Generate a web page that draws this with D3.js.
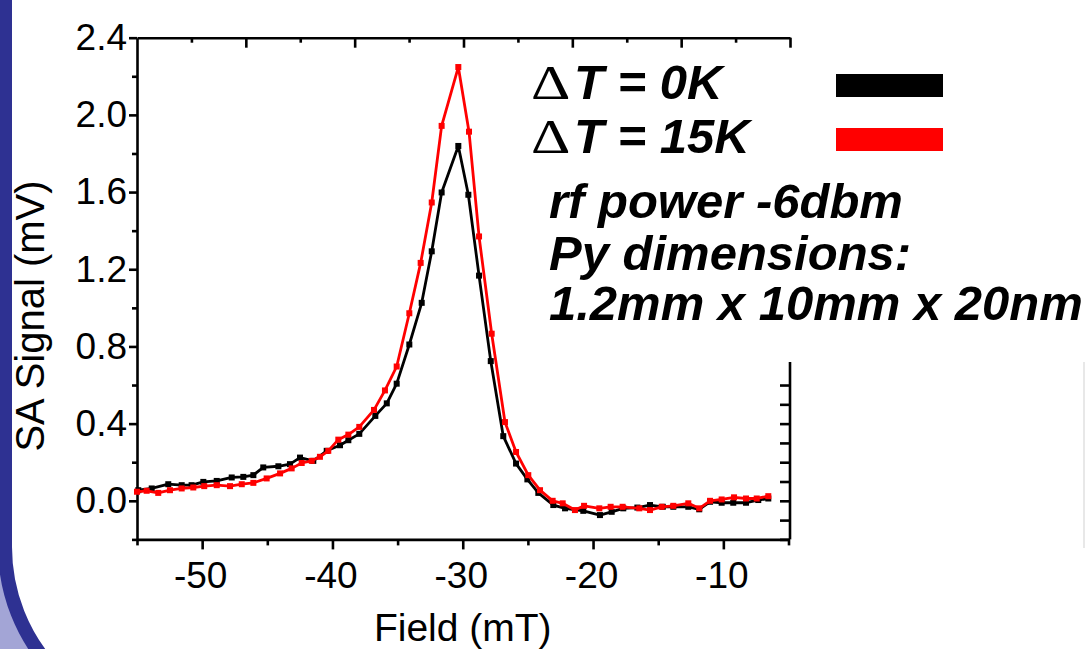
<!DOCTYPE html>
<html><head><meta charset="utf-8">
<script src="https://cdn.jsdelivr.net/npm/d3@7"></script>
<style>html,body{margin:0;padding:0;background:#fff;overflow:hidden}</style>
</head><body><svg id="c" width="1088" height="649"></svg>
<script>
// ---- data ----
const fieldK0 = [-54.9,-53.87,-52.6,-51.57,-50.81,-49.91,-48.88,-47.73,-46.84,-46.07,-45.31,-44.15,-43.26,-42.49,-41.47,-40.44,-39.42,-38.78,-37.94,-36.71,-35.83,-35.07,-34.10,-33.15,-32.38,-31.62,-30.34,-29.57,-28.75,-27.85,-26.89,-25.91,-25.04,-24.20,-23.05,-22.15,-20.75,-19.47,-18.57,-17.68,-16.6,-15.63,-14.65,-13.84,-12.69,-11.85,-11.02,-10.13,-9.24,-8.26,-7.32,-6.55];
const signalK0 = [0.055,0.064,0.086,0.081,0.081,0.098,0.103,0.121,0.124,0.133,0.173,0.179,0.190,0.224,0.207,0.259,0.288,0.314,0.347,0.440,0.505,0.607,0.810,1.026,1.293,1.598,1.839,1.586,1.167,0.724,0.335,0.193,0.111,0.041,-0.022,-0.039,-0.052,-0.074,-0.057,-0.039,-0.035,-0.022,-0.031,-0.031,-0.031,-0.044,-0.005,-0.010,-0.010,-0.010,0.004,0.012];
const fieldK15 = [-55.0,-54.26,-53.37,-52.47,-51.57,-50.68,-49.84,-48.88,-47.86,-46.96,-46.07,-45.05,-44.02,-43.13,-42.36,-41.59,-40.96,-40.32,-39.55,-38.78,-37.94,-36.81,-35.97,-35.07,-34.10,-33.23,-32.38,-31.62,-30.34,-29.52,-28.75,-27.78,-26.76,-25.91,-24.97,-24.07,-23.10,-22.33,-21.39,-20.69,-19.52,-18.65,-17.73,-16.45,-15.63,-14.73,-13.84,-12.69,-11.85,-11.02,-10.13,-9.18,-8.26,-7.44,-6.55];
const signalK15 = [0.047,0.052,0.041,0.055,0.064,0.069,0.076,0.081,0.076,0.086,0.093,0.116,0.142,0.168,0.196,0.207,0.228,0.259,0.317,0.343,0.383,0.471,0.572,0.696,0.972,1.233,1.546,1.943,2.248,1.913,1.370,0.866,0.408,0.253,0.133,0.055,0.000,-0.013,-0.048,-0.026,-0.039,-0.031,-0.031,-0.039,-0.048,-0.031,-0.026,-0.013,-0.039,0.000,0.007,0.018,0.012,0.012,0.024];
const xTickLabels = [-50,-40,-30,-20,-10];
const xMinorTicks = [-55,-45,-35,-25,-15,-5];
const yTickLabels = [0.0,0.4,0.8,1.2,1.6,2.0,2.4];
const yMinorTicks = [-0.2,0.2,0.6,1.0,1.4,1.8,2.2];
const rightTicks = [-0.2,-0.1,0.0,0.1,0.2,0.3,0.4,0.5,0.6];
const topTicks = [1,2,3,4,5,6,7,8,9,10,11,12];
const seriesNames = ["T = 0K","T = 15K"];
const seriesColors = ["#000000","#ff0000"];
const noteLines = ["rf power -6dbm","Py dimensions:","1.2mm x 10mm x 20nm"];

const svg = d3.select("#c");
const W = 1088, H = 649;

// slide frame
svg.append("rect").attr("x",0).attr("y",0).attr("width",W).attr("height",H).attr("fill","#a3a5d6");
svg.append("rect").attr("x",5).attr("y",-300).attr("width",1400).attr("height",1027)
  .attr("rx",180).attr("ry",180).attr("fill","#ffffff").attr("stroke","#2e3192").attr("stroke-width",14);
svg.append("line").attr("x1",1084).attr("x2",1084).attr("y1",205).attr("y2",548)
  .attr("stroke","#e0e0e0").attr("stroke-width",1.5);

const x = d3.scaleLinear().domain([-55,-5]).range([137,788.5]);
const y = d3.scaleLinear().domain([-0.2,2.4]).range([539.4,37.7]);
const xTop = d3.scaleLinear().domain([0,12]).range([137,790]);

const font = "'Liberation Sans', Arial, sans-serif";

function styleAxis(g){
  g.select(".domain").attr("stroke","#000").attr("stroke-width",2.6);
  g.selectAll(".tick line").attr("stroke","#000").attr("stroke-width",2.6);
  g.selectAll(".tick text").attr("fill","#000").style("font-family",font).style("font-size","37px");
}

// bottom axis
const gx = svg.append("g").attr("transform",`translate(0,${y(-0.2)})`)
  .call(d3.axisBottom(x).tickValues(xTickLabels).tickSize(10).tickPadding(12.5).tickFormat(d3.format("d")).tickSizeOuter(0));
styleAxis(gx);
gx.selectAll(".tick text").text(d=>String(d)).attr("dx",-2);
const gxm = svg.append("g").attr("transform",`translate(0,${y(-0.2)})`)
  .call(d3.axisBottom(x).tickValues(xMinorTicks).tickSize(6).tickFormat("").tickSizeOuter(0));
styleAxis(gxm); gxm.select(".domain").remove();

// left axis
const gy = svg.append("g").attr("transform",`translate(${x(-55)},0)`)
  .call(d3.axisLeft(y).tickValues(yTickLabels).tickSize(8).tickPadding(2).tickFormat(d3.format(".1f")).tickSizeOuter(0));
styleAxis(gy);
const gym = svg.append("g").attr("transform",`translate(${x(-55)},0)`)
  .call(d3.axisLeft(y).tickValues(yMinorTicks).tickSize(5).tickFormat("").tickSizeOuter(0));
styleAxis(gym); gym.select(".domain").remove();

// top frame with its inner ticks
const gt = svg.append("g").attr("transform",`translate(0,${y(2.4)})`)
  .call(d3.axisBottom(xTop).tickValues(topTicks).tickFormat("").tickSizeOuter(0).tickSize(0));
styleAxis(gt);
gt.selectAll(".tick line").attr("y2",d=> d%2===0 ? 10 : 5);

// right axis (inner ticks)
const gr = svg.append("g").attr("transform",`translate(${xTop(12)},0)`)
  .call(d3.axisLeft(y).tickValues(rightTicks).tickFormat("").tickSizeOuter(0).tickSize(10));
styleAxis(gr);
gr.select(".domain").attr("d",`M0,${y(-0.2)}V${y(0.72)}`);

// series
const line = d3.line().x(d=>x(d[0])).y(d=>y(d[1]));
const series = [d3.zip(fieldK0,signalK0), d3.zip(fieldK15,signalK15)];
series.forEach((s,i)=>{
  svg.append("path").datum(s).attr("d",line).attr("fill","none")
    .attr("stroke",seriesColors[i]).attr("stroke-width",2.8).attr("stroke-linejoin","round");
  svg.append("g").selectAll("rect").data(s).join("rect")
    .attr("x",d=>x(d[0])-3).attr("y",d=>y(d[1])-3).attr("width",6).attr("height",6)
    .attr("fill",seriesColors[i]);
});

// axis titles
svg.append("text").attr("x",x(-30)).attr("y",641).attr("text-anchor","middle")
  .style("font-family",font).style("font-size","39px").text("Field (mT)");
svg.append("text").attr("transform",`translate(44,316) rotate(-90)`).attr("text-anchor","middle")
  .style("font-family",font).style("font-size","40px").text("SA Signal (mV)");

// text box (covers upper right of frame)
svg.append("rect").attr("x",515).attr("y",52).attr("width",573).attr("height",310).attr("fill","#fff");

const legendY = [99, 153];
seriesNames.forEach((n,i)=>{
  const g = svg.append("g");
  g.append("text").attr("transform",`translate(531,${legendY[i]}) scale(1.25,1)`)
    .style("font-family","'Liberation Serif', 'DejaVu Serif', serif").style("font-size","49px").text("\u0394");
  g.append("text").attr("x",574).attr("y",legendY[i]).style("font-family",font).style("font-size","49px")
    .style("font-weight","bold").style("font-style","italic").text(n);
  g.append("rect").attr("x",836).attr("y",legendY[i]-25).attr("width",107).attr("height",23).attr("fill",seriesColors[i]);
});
const noteY = [218, 270, 320];
noteLines.forEach((n,i)=>{
  svg.append("text").attr("x",549).attr("y",noteY[i])
    .style("font-family",font).style("font-size","49px")
    .style("font-weight","bold").style("font-style","italic").text(n);
});
</script></body></html>
